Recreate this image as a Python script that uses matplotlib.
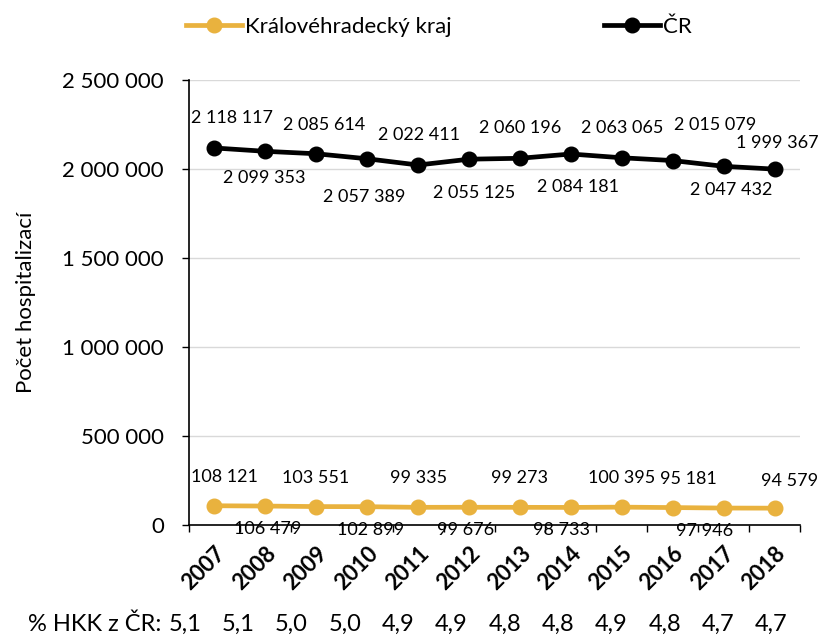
import matplotlib.pyplot as plt
from matplotlib.lines import Line2D

plt.rcParams['font.family'] = ['Lato', 'DejaVu Sans']

years = ['2007', '2008', '2009', '2010', '2011', '2012',
         '2013', '2014', '2015', '2016', '2017', '2018']
khk = [108121, 106479, 103551, 102899, 99335, 99676,
       99273, 98733, 100395, 97946, 95181, 94579]
cr = [2118117, 2099353, 2085614, 2057389, 2022411, 2055125,
      2060196, 2084181, 2063065, 2047432, 2015079, 1999367]
share = ['5,1', '5,1', '5,0', '5,0', '4,9', '4,9',
         '4,8', '4,8', '4,9', '4,8', '4,7', '4,7']

gold = '#E9B23E'

# label offsets in pixels (dx, dy), like the hand-moved excel labels
cr_off = [(18, 30), (-1, -27), (8, 29), (-3, -38), (1, 30), (5, -34),
          (0, 30), (7, -33), (0, 30), (58, -29), (-9, 41), (3, 26)]
khk_off = [(10, 29), (2, -23), (-1, 29), (3, -23), (0, 29), (-3, -23),
           (0, 29), (-9, -23), (0, 29), (32, -23), (-35, 29), (15, 27)]


def fmt(v):
    return f"{v:,.0f}".replace(",", " ")


fig = plt.figure(figsize=(8.23, 6.37), dpi=100)
ax = fig.add_axes([189/823, 1-525/637, 611/823, 445/637])

x = list(range(len(years)))
ax.plot(x, khk, color=gold, lw=3.4, marker='o', ms=10.5, zorder=3)
ax.plot(x, cr, color='black', lw=3.4, marker='o', ms=10.5, zorder=3)

for i in x:
    ax.annotate(fmt(cr[i]), (i, cr[i]), xytext=cr_off[i], textcoords='offset pixels',
                ha='center', va='center', fontsize=13)
    ax.annotate(fmt(khk[i]), (i, khk[i]), xytext=khk_off[i], textcoords='offset pixels',
                ha='center', va='center', fontsize=13)

ax.set_xlim(-0.5, len(years) - 0.5)
ax.set_ylim(0, 2500000)
ax.set_yticks(range(0, 2500001, 500000))
ax.set_yticklabels([fmt(v) for v in range(0, 2500001, 500000)], fontsize=16)
ax.tick_params(axis='y', length=5, width=1, pad=13)
ax.yaxis.grid(True, color='#d9d9d9', lw=1)
ax.set_axisbelow(True)

ax.set_xticks(x)
ax.set_xticklabels(years, rotation=45, ha='right', va='top', rotation_mode='anchor',
                   fontsize=16, fontweight='bold')
ax.tick_params(axis='x', which='major', length=0, pad=13)
ax.set_xticks([i - 0.5 for i in range(len(years) + 1)], minor=True)
ax.tick_params(axis='x', which='minor', length=5, width=1)

for s in ['top', 'right']:
    ax.spines[s].set_visible(False)
ax.spines['left'].set_linewidth(1.2)
ax.spines['bottom'].set_linewidth(1.2)

ax.set_ylabel('Počet hospitalizací', fontsize=16)
ax.yaxis.set_label_coords(-0.250, 0.5)

# legend
h1 = Line2D([], [], color=gold, lw=3.4, marker='o', ms=10.5)
h2 = Line2D([], [], color='black', lw=3.4, marker='o', ms=10.5)
for h, name, xp in [(h1, 'Královéhradecký kraj', 186), (h2, 'ČR', 604)]:
    fig.legend([h], [name], loc='center left', bbox_to_anchor=(xp/823, 1-27/637),
               frameon=False, fontsize=16, handlelength=2.5, handletextpad=0.15,
               borderpad=0, borderaxespad=0)

# bottom row with shares
fig.text(28/823, 1-624/637, '% HKK z ČR:', fontsize=17, ha='left', va='center')
for k, s in enumerate(share):
    fig.text((185 + 53.3*k)/823, 1-624/637, s, fontsize=17, ha='center', va='center')

fig.savefig('out.png', dpi=100)
